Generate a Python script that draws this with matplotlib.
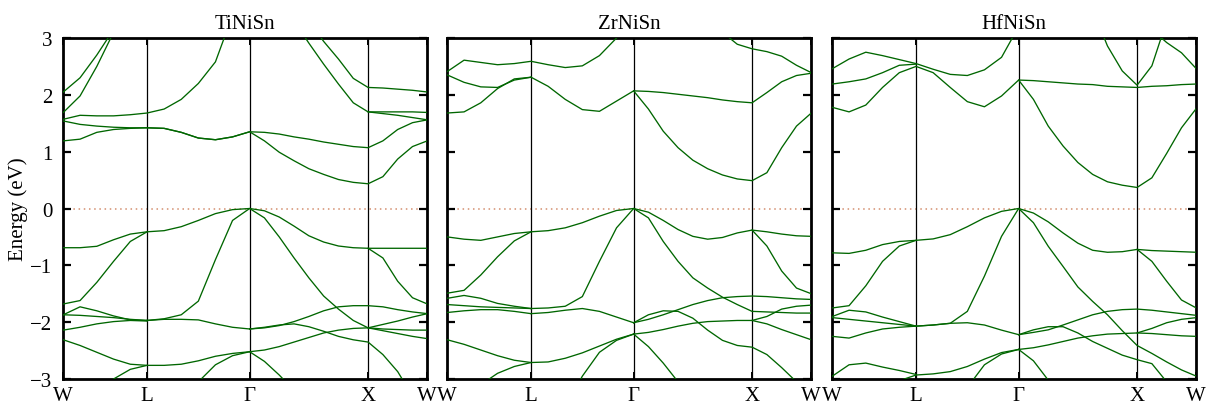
import matplotlib
matplotlib.use("Agg")
import matplotlib.pyplot as plt

# k-path W-L-G-X-W (fcc), distances in 2pi/a
K_NODES = [0.0, 0.7071, 1.5731, 2.5731, 3.0731]
K_LABELS = ["W", "L", "Γ", "X", "W"]
# sampling of each segment used when reading the bands off the picture
SEGMENT_FRACTIONS = [
    [0.0, 0.2, 0.4, 0.6, 0.8],
    [0.0, 1 / 6, 2 / 6, 3 / 6, 4 / 6, 5 / 6],
    [0.0, 0.125, 0.25, 0.375, 0.5, 0.625, 0.75, 0.875],
    [0.0, 0.25, 0.5, 0.75, 1.0],
]

COMPOUNDS = ["TiNiSn", "ZrNiSn", "HfNiSn"]

# bands: (index of first k sample, energies in eV)
TINISN_BANDS = [
    (0, [2.05, 2.30, 2.70, 3.15, 3.5]),
    (0, [1.69, 1.98, 2.50, 3.10, 3.5]),
    (0, [1.57, 1.64, 1.63, 1.63, 1.65, 1.68, 1.75, 1.92, 2.20, 2.58, 3.40, 3.9]),
    (0, [1.19, 1.22, 1.34, 1.39, 1.41, 1.42, 1.41, 1.34, 1.24, 1.21, 1.26, 1.35,
         1.19, 0.99, 0.84, 0.70, 0.60, 0.51, 0.46, 0.435, 0.56, 0.87, 1.09, 1.19]),
    (0, [1.54, 1.48, 1.45, 1.43, 1.42, 1.42, 1.41, 1.34, 1.24, 1.21, 1.26, 1.35,
         1.34, 1.31, 1.26, 1.22, 1.17, 1.13, 1.09, 1.07, 1.19, 1.39, 1.51, 1.56]),
    (14, [3.3, 2.91, 2.54, 2.19, 1.86, 1.70, 1.70, 1.70, 1.70, 1.69]),
    (19, [1.70, 1.67, 1.64, 1.60, 1.56]),
    (15, [3.3, 2.94, 2.63, 2.29, 2.13, 2.12, 2.10, 2.08, 2.05]),
    (0, [-0.69, -0.69, -0.665, -0.55, -0.45, -0.41, -0.39, -0.32, -0.21, -0.09, -0.02, 0.0,
         -0.04, -0.15, -0.31, -0.48, -0.59, -0.66, -0.69, -0.70, -0.70, -0.70, -0.70, -0.70]),
    (19, [-0.70, -0.87, -1.28, -1.57, -1.68]),
    (0, [-1.68, -1.62, -1.30, -0.93, -0.58, -0.41]),
    (5, [-1.97, -1.94, -1.87, -1.63, -0.90, -0.21, 0.0,
         -0.165, -0.50, -0.87, -1.22, -1.54, -1.77, -1.97, -2.10, -2.04, -1.98, -1.91, -1.85]),
    (11, [-2.12, -2.10, -2.06, -1.99, -1.90, -1.80, -1.73, -1.71, -1.71, -1.73, -1.78, -1.82, -1.85]),
    (11, [-2.12, -2.09, -2.05, -2.03, -2.08, -2.16, -2.25, -2.31, -2.35, -2.57, -2.87, -3.3]),
    (0, [-2.31, -2.41, -2.53, -2.65, -2.74, -2.76, -2.76, -2.74, -2.68, -2.60, -2.55, -2.52,
         -2.49, -2.43, -2.35, -2.27, -2.19, -2.14, -2.11, -2.10, -2.12, -2.13, -2.14, -2.14]),
    (19, [-2.10, -2.15, -2.20, -2.25, -2.29]),
    (11, [-2.52, -2.69, -2.93, -3.2]),
    (8, [-3.05, -2.75, -2.59, -2.52]),
    (5, [-1.97, -1.95, -1.95, -1.96, -2.03, -2.09, -2.12]),
    (0, [-1.87, -1.73, -1.80, -1.89, -1.96, -1.97]),
    (0, [-1.87, -1.88, -1.90, -1.92, -1.95, -1.97]),
    (0, [-2.14, -2.09, -2.03, -1.99, -1.97, -1.98]),
    (2, [-3.3, -3.0, -2.83, -2.76]),
]

ZRNISN_BANDS = [
    (0, [2.41, 2.61, 2.57, 2.53, 2.55, 2.59, 2.53, 2.48, 2.51, 2.69, 3.0, 3.3]),
    (0, [2.35, 2.22, 2.14, 2.13, 2.26, 2.31]),
    (0, [1.68, 1.70, 1.86, 2.11, 2.28, 2.31]),
    (5, [2.31, 2.15, 1.92, 1.74, 1.71, 1.89, 2.07,
         1.75, 1.36, 1.07, 0.85, 0.70, 0.59, 0.52, 0.49, 0.63, 1.07, 1.45, 1.68]),
    (11, [2.07, 2.06, 2.04, 2.01, 1.98, 1.95, 1.91, 1.88, 1.86, 2.04, 2.23, 2.34, 2.38]),
    (17, [3.1, 2.89, 2.81, 2.76, 2.68, 2.52, 2.39]),
    (0, [-0.50, -0.54, -0.56, -0.50, -0.44, -0.41, -0.39, -0.34, -0.25, -0.135, -0.035, 0.0,
         -0.065, -0.21, -0.37, -0.49, -0.54, -0.51, -0.43, -0.38, -0.41, -0.45, -0.48, -0.49]),
    (19, [-0.38, -0.66, -1.10, -1.40, -1.50]),
    (0, [-1.49, -1.44, -1.17, -0.85, -0.57, -0.41]),
    (5, [-1.76, -1.75, -1.72, -1.55, -0.93, -0.34, 0.0,
         -0.165, -0.58, -0.93, -1.22, -1.40, -1.56, -1.69, -1.81, -1.82, -1.83, -1.84, -1.84]),
    (11, [-2.01, -1.87, -1.80, -1.81, -1.93, -2.14, -2.32, -2.41, -2.44, -2.57, -2.80, -3.05]),
    (11, [-2.01, -1.95, -1.87, -1.78, -1.69, -1.62, -1.57, -1.55, -1.54, -1.55, -1.57, -1.59, -1.60]),
    (11, [-2.21, -2.18, -2.13, -2.07, -2.02, -1.99, -1.98, -1.97, -1.97, -1.90, -1.77, -1.72, -1.70]),
    (19, [-1.97, -2.03, -2.13, -2.22, -2.31]),
    (11, [-2.21, -2.43, -2.72, -3.05]),
    (5, [-1.85, -1.83, -1.79, -1.76, -1.81, -1.91, -2.01]),
    (0, [-2.31, -2.39, -2.49, -2.59, -2.67, -2.71, -2.70, -2.635, -2.54, -2.42, -2.30, -2.21]),
    (2, [-3.1, -2.90, -2.78, -2.71]),
    (7, [-3.5, -2.95, -2.53, -2.32, -2.21]),
    (0, [-1.58, -1.53, -1.58, -1.67, -1.72, -1.76]),
    (0, [-1.69, -1.71, -1.73, -1.74, -1.75, -1.76]),
    (0, [-1.83, -1.80, -1.78, -1.78, -1.81, -1.85]),
]

HFNISN_BANDS = [
    (0, [2.46, 2.63, 2.75, 2.69, 2.62, 2.55, 2.45, 2.36, 2.34, 2.44, 2.66, 3.2]),
    (0, [2.19, 2.23, 2.28, 2.39, 2.52, 2.54]),
    (0, [1.78, 1.70, 1.82, 2.13, 2.39, 2.50]),
    (5, [2.50, 2.39, 2.13, 1.88, 1.79, 1.98, 2.26,
         1.92, 1.45, 1.10, 0.81, 0.60, 0.47, 0.41, 0.37, 0.54, 0.97, 1.42, 1.76]),
    (11, [2.26, 2.25, 2.23, 2.21, 2.19, 2.18, 2.15, 2.14, 2.13, 2.15, 2.16, 2.18, 2.19]),
    (16, [3.5, 2.86, 2.42, 2.17, 2.51, 3.3]),
    (20, [3.15, 2.92, 2.74, 2.46]),
    (0, [-0.78, -0.79, -0.735, -0.635, -0.58, -0.56, -0.535, -0.46, -0.32, -0.165, -0.05, 0.0,
         -0.08, -0.235, -0.43, -0.61, -0.735, -0.77, -0.76, -0.72, -0.74, -0.75, -0.76, -0.77]),
    (19, [-0.72, -0.93, -1.28, -1.61, -1.75]),
    (0, [-1.75, -1.71, -1.36, -0.93, -0.66, -0.56]),
    (5, [-2.07, -2.05, -2.02, -1.81, -1.19, -0.49, 0.0,
         -0.25, -0.665, -1.02, -1.38, -1.635, -1.87, -2.15, -2.41, -2.55, -2.70, -2.84, -2.95]),
    (11, [-2.22, -2.135, -2.08, -2.08, -2.19, -2.34, -2.46, -2.58, -2.66, -2.73, -3.05]),
    (11, [-2.22, -2.18, -2.135, -2.05, -1.96, -1.87, -1.81, -1.78, -1.77, -1.79, -1.82, -1.85, -1.88]),
    (11, [-2.48, -2.45, -2.40, -2.34, -2.28, -2.24, -2.21, -2.20, -2.19, -2.20, -2.22, -2.24, -2.25]),
    (19, [-2.19, -2.11, -2.01, -1.95, -1.92]),
    (11, [-2.48, -2.68, -3.02, -3.4]),
    (5, [-2.07, -2.05, -2.02, -2.01, -2.05, -2.14, -2.22]),
    (5, [-2.93, -2.91, -2.87, -2.78, -2.65, -2.535, -2.48]),
    (8, [-3.15, -2.75, -2.56, -2.48]),
    (0, [-1.90, -1.79, -1.82, -1.91, -1.99, -2.07]),
    (0, [-1.92, -1.95, -1.98, -2.01, -2.04, -2.07]),
    (0, [-2.25, -2.28, -2.19, -2.12, -2.09, -2.07]),
    (0, [-2.95, -2.75, -2.72, -2.79, -2.85, -2.92]),
    (3, [-3.3, -3.03, -2.93]),
]

BAND_COLOR = "#006600"
FERMI_COLOR = "#cc7a55"

# k sample grid
k_grid = []
for i, fracs in enumerate(SEGMENT_FRACTIONS):
    k0, k1 = K_NODES[i], K_NODES[i + 1]
    k_grid += [k0 + f * (k1 - k0) for f in fracs]

plt.rcParams["font.family"] = ["Liberation Serif", "DejaVu Serif"]
plt.rcParams["font.size"] = 15

fig = plt.figure(figsize=(12.08, 4.10), dpi=100)
lefts = [63.3, 447.3, 832.3]
width = 364.0
bottom, top = 380.0, 39.0

for n, (name, bands) in enumerate(zip(COMPOUNDS, [TINISN_BANDS, ZRNISN_BANDS, HFNISN_BANDS])):
    ax = fig.add_axes([lefts[n] / 1208, 1 - bottom / 410, width / 1208, (bottom - top) / 410])
    ax.axhline(0, color=FERMI_COLOR, lw=1.1, ls=(0, (1, 2.4)), alpha=0.85, zorder=1)
    for k in K_NODES[1:-1]:
        ax.axvline(k, color="black", lw=0.9, zorder=2)
    for start, vals in bands:
        ax.plot(k_grid[start:start + len(vals)], vals, color=BAND_COLOR, lw=0.95, zorder=3)

    ax.set_xlim(K_NODES[0], K_NODES[-1])
    ax.set_ylim(-3, 3)
    ax.set_xticks(K_NODES)
    ax.set_xticklabels(K_LABELS)
    ax.set_yticks(range(-3, 4))
    ax.tick_params(axis="y", direction="in", left=True, right=True, length=6, width=1.6,
                   pad=8, labelleft=(n == 0))
    ax.tick_params(axis="x", direction="in", top=True, bottom=True, length=5, width=1.4, pad=5)
    for sp in ax.spines.values():
        sp.set_linewidth(2.0)
    ax.set_title(name, fontsize=15, pad=7)

fig.text(18.5 / 1208, 1 - 209 / 410, "Energy (eV)", rotation=90, ha="center", va="center", fontsize=15)

fig.savefig("out.png", dpi=100)
